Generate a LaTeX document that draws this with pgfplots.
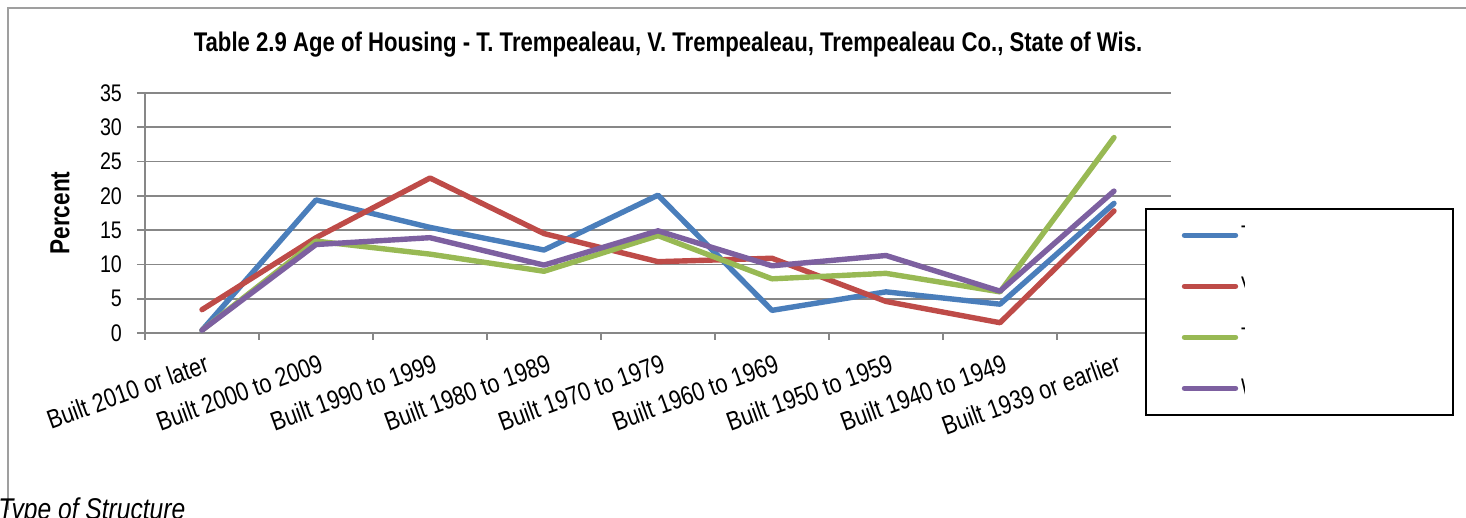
\documentclass[border=0pt]{standalone}
\usepackage{fontspec}
\setmainfont{Liberation Sans}[FakeStretch=0.82]
\usepackage{pgfplots}
\pgfplotsset{compat=1.18}
\usepackage{trimclip}
\definecolor{cblue}{HTML}{4A7EBB}
\definecolor{cred}{HTML}{BE4B48}
\definecolor{cgreen}{HTML}{98B954}
\definecolor{cpurple}{HTML}{7D60A0}
\definecolor{gridgray}{HTML}{878787}
\newcommand\frag[1]{\makebox[88pt][l]{\clipbox{0pt 0pt {\width-1.6pt} 0pt}{#1}}}
\begin{document}
\begin{tikzpicture}
\useasboundingbox (0,0) rectangle (733pt,259pt);
\draw[gridgray!80, line width=0.9pt] (4pt,4pt) -- (4pt,255pt) -- (740pt,255pt);
\node[font=\fontsize{13.5pt}{15pt}\selectfont\bfseries] at (334pt,236.5pt) {Table 2.9 Age of Housing - T. Trempealeau, V. Trempealeau, Trempealeau Co., State of Wis.};
\node[font=\fontsize{15pt}{17pt}\selectfont\itshape, anchor=base west, inner sep=0pt] at (-1pt,-0.75pt) {Type of Structure};
\begin{axis}[
  at={(72.5pt,92.5pt)}, anchor=south west,
  scale only axis, width=513pt, height=120pt,
  xmin=-0.5, xmax=8.5, ymin=0, ymax=35,
  ytick={0,5,...,35},
  ymajorgrids, grid style={color=gridgray, line width=0.85pt},
  axis x line*=bottom, axis y line*=left,
  axis line style={gridgray, line width=0.85pt, -},
  tick style={gridgray, line width=0.85pt},
  tick align=outside,
  major tick length=4pt, minor tick length=3.5pt,
  xtick={0,...,8},
  xticklabels={Built 2010 or later, Built 2000 to 2009, Built 1990 to 1999, Built 1980 to 1989, Built 1970 to 1979, Built 1960 to 1969, Built 1950 to 1959, Built 1940 to 1949, Built 1939 or earlier},
  major x tick style={draw=none},
  minor xtick={-0.5,0.5,...,8.5},
  xticklabel style={rotate=20, anchor=north east, inner sep=1pt, yshift=-5pt, font=\fontsize{13.2pt}{15pt}\selectfont},
  yticklabel style={xshift=-4pt, font=\fontsize{12pt}{14pt}\selectfont},
  /pgf/number format/assume math mode=true,
  ylabel={\bfseries Percent},
  ylabel style={at={(axis description cs:-0.0828,0.5)}, anchor=center, font=\fontsize{13.8pt}{15pt}\selectfont},
  every axis plot/.append style={line width=2.7pt, line join=round, line cap=round},
  legend image code/.code={\draw[#1] (0pt,0pt) -- (25.5pt,0pt);},
  legend style={at={(rel axis cs:0.9747,0.5208)}, anchor=north west, draw=black, line width=0.75pt, fill=white,
    inner xsep=18pt, inner ysep=0.5pt, row sep=0pt, column sep=1.5pt,
    font=\fontsize{12pt}{14pt}\selectfont,
    nodes={inner sep=0pt, minimum height=25.5pt, anchor=west}},
  legend cell align=left,
]
\addplot[cblue] coordinates {(0,0.4) (1,19.4) (2,15.4) (3,12.1) (4,20.1) (5,3.3) (6,6.0) (7,4.2) (8,18.9)};
\addplot[cred] coordinates {(0,3.4) (1,13.9) (2,22.6) (3,14.5) (4,10.4) (5,10.9) (6,4.6) (7,1.5) (8,17.8)};
\addplot[cgreen] coordinates {(0,0.4) (1,13.4) (2,11.5) (3,9.0) (4,14.2) (5,7.9) (6,8.7) (7,6.0) (8,28.5)};
\addplot[cpurple] coordinates {(0,0.4) (1,12.9) (2,13.9) (3,9.9) (4,14.9) (5,9.8) (6,11.3) (7,6.1) (8,20.7)};
\legend{\frag{T. Trempealeau}, \frag{V. Trempealeau}, \frag{Trempealeau Co.}, \frag{Wisconsin}}
\end{axis}
\end{tikzpicture}
\end{document}
